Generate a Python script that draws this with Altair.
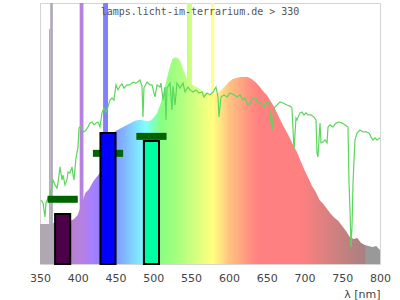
import altair as alt
import pandas as pd

# ---- data ----
# measured spectrum (relative units, 0..100 = plot height), 5 nm steps
spec_nm = list(range(350, 801, 5))
spec_val = [15.3, 15.3, 15.3, 15.3, 16.1, 16.1, 16.1, 16.1, 16.5, 17.2,
            18.8, 23.0, 27.2, 28.7, 31.4, 33.3, 35.2, 37.9, 43.7, 48.3,
            51.0, 51.7, 52.5, 53.3, 54.0, 54.8, 55.2, 55.2, 54.8, 54.8,
            55.9, 57.9, 61.7, 67.4, 73.6, 78.5, 79.3, 78.2, 74.3, 70.5,
            69.0, 68.2, 67.4, 66.3, 65.5, 64.8, 65.1, 65.5, 66.7, 68.2,
            69.7, 70.9, 71.3, 71.6, 71.6, 71.6, 70.9, 69.7, 68.2, 66.3,
            64.8, 62.5, 60.2, 57.1, 54.0, 51.3, 48.7, 45.6, 42.9, 39.5,
            36.0, 33.0, 29.9, 27.6, 24.5, 23.0, 21.1, 19.2, 17.6, 16.5,
            14.6, 12.6, 10.3, 9.6, 10.0, 8.0, 7.3, 6.9, 6.5, 6.9, 5.4]

# emission lines (clipped at the top)
line_lo = [362.0, 363.5, 402.5, 433.5, 544.5, 576.5]
line_hi = [363.5, 367.0, 407.5, 440.0, 551.0, 580.5]
line_top = [90, 100, 100, 100, 100, 100]
line_col = ["#b0a8b8", "#b0a8b8", "#b880e0", "#8080ff", "#c8ff80", "#ffff80"]

# reference (daylight) curve
ref_nm = [351.3, 354.0, 356.6, 357.9, 360.6, 363.2, 365.9, 367.2, 369.9, 372.5,
          373.8, 376.5, 379.1, 380.4, 383.1, 385.7, 387.1, 389.7, 392.4, 393.7,
          395.0, 397.6, 400.3, 401.6, 404.3, 405.6, 408.2, 410.9, 413.5, 416.2,
          418.8, 421.5, 424.1, 426.8, 429.4, 432.1, 434.7, 437.4, 440.0, 442.6,
          445.3, 447.9, 450.6, 453.2, 455.9, 458.5, 461.2, 465.1, 469.1, 473.1,
          477.1, 482.4, 485.0, 486.3, 487.6, 491.6, 495.6, 498.2, 502.2, 504.9,
          508.8, 510.1, 512.8, 515.4, 516.8, 518.1, 522.1, 524.7, 526.0, 528.7,
          531.3, 535.3, 539.3, 541.9, 545.9, 548.5, 552.5, 556.5, 560.4, 564.4,
          567.1, 571.0, 575.0, 579.0, 582.9, 585.6, 586.9, 589.6, 593.5, 597.5,
          601.5, 606.8, 610.7, 614.7, 618.7, 621.3, 625.3, 627.9, 631.9, 635.9,
          638.5, 642.5, 646.5, 649.1, 653.1, 654.4, 657.1, 659.7, 663.7, 667.6,
          671.6, 676.9, 680.9, 683.5, 686.2, 688.8, 690.1, 694.1, 696.8, 699.4,
          702.1, 704.7, 708.7, 712.6, 715.3, 716.6, 717.9, 720.6, 721.9, 724.6,
          727.2, 729.9, 731.2, 733.8, 737.8, 741.8, 745.7, 749.7, 753.7, 757.6,
          759.0, 760.3, 761.6, 762.9, 764.3, 765.6, 766.9, 769.6, 773.5, 777.5,
          781.5, 785.4, 788.1, 790.7, 793.4, 796.0, 800.0]
ref_val = [24.5, 23.4, 18.0, 23.4, 25.3, 26.4, 29.9, 32.2, 30.3, 29.1,
           31.0, 37.2, 32.2, 34.1, 30.3, 32.2, 35.2, 34.9, 37.2, 34.1,
           32.2, 40.6, 44.8, 52.1, 52.9, 51.3, 50.6, 51.3, 52.5, 54.0,
           54.4, 53.3, 54.0, 54.4, 52.5, 57.9, 59.8, 58.2, 60.2, 62.8,
           63.6, 62.8, 68.6, 66.7, 68.2, 69.0, 67.4, 68.6, 68.6, 69.7,
           69.3, 70.5, 68.2, 56.3, 67.4, 69.7, 68.6, 68.6, 64.0, 68.6,
           67.8, 69.3, 62.8, 67.8, 55.2, 67.4, 69.3, 59.0, 68.2, 60.9,
           69.3, 67.4, 69.3, 65.9, 67.8, 66.7, 65.9, 66.7, 65.5, 65.9,
           64.0, 65.5, 64.8, 65.9, 67.8, 64.0, 56.3, 64.0, 64.8, 64.0,
           65.5, 64.8, 64.0, 64.8, 62.8, 63.6, 60.9, 61.7, 63.6, 63.6,
           61.7, 61.7, 60.2, 62.1, 61.7, 57.9, 51.3, 59.8, 60.9, 62.1,
           61.7, 60.9, 60.5, 59.8, 43.7, 55.9, 55.2, 57.9, 58.2, 57.1,
           57.9, 57.1, 57.1, 56.3, 55.2, 42.5, 41.0, 54.0, 46.4, 46.7,
           47.5, 46.4, 52.5, 53.3, 52.5, 54.0, 54.4, 54.0, 53.3, 52.5,
           31.0, 20.7, 6.5, 14.2, 31.0, 39.8, 47.5, 50.2, 51.3, 50.6,
           50.6, 50.2, 48.7, 47.5, 48.3, 47.5, 48.3]

# measured bands: centre, bar value, target marker value
band_nm = [380, 440, 497.5]
bar_val = [19.2, 50.2, 47.1]
mark_val = [24.8, 42.4, 48.9]
bar_col = ["#4c0048", "#0000ff", "#00ffa4"]

x_ticks = [350, 400, 450, 500, 550, 600, 650, 700, 750, 800]
title_text = "lamps.licht-im-terrarium.de > 330"

# ---- style: spectral colour gradient (wavelength, colour) ----
grad = [(350, "#b0a8b0"), (379, "#b0a8b0"), (381, "#b088b8"), (390, "#b484c4"),
        (400, "#b880dc"), (410, "#b080f0"), (420, "#a480ff"), (440, "#8080ff"),
        (450, "#809aff"), (460, "#80b2ff"), (470, "#80ccff"), (480, "#80e6ff"),
        (490, "#80ffff"), (500, "#80ffc0"), (510, "#88ff80"), (530, "#a4ff80"),
        (550, "#c8ff80"), (565, "#e8ff80"), (578, "#ffff80"), (588, "#ffe880"),
        (600, "#ffc480"), (615, "#ffa880"), (628, "#ff9080"), (640, "#ff8080"),
        (695, "#ff8080"), (740, "#d08080"), (780, "#a88080"), (781, "#999999"),
        (800, "#999999")]
stops = [alt.GradientStop(color=c, offset=(w - 350) / 450) for w, c in grad]

spec_df = pd.DataFrame({"nm": spec_nm, "v": spec_val})
line_df = pd.DataFrame({"lo": line_lo, "hi": line_hi, "top": line_top, "col": line_col})
ref_df = pd.DataFrame({"nm": ref_nm, "v": ref_val})
band_df = pd.DataFrame({
    "c": band_nm, "bar": bar_val, "mark": mark_val, "col": bar_col,
})
band_df["b_lo"] = band_df["c"] - 10
band_df["b_hi"] = band_df["c"] + 10
band_df["m_lo"] = band_df["c"] - 20
band_df["m_hi"] = band_df["c"] + 20

xs = alt.Scale(domain=[350, 800], nice=False, zero=False)
ys = alt.Scale(domain=[0, 100], nice=False)

xaxis = alt.Axis(values=x_ticks, title="λ [nm]", titleAnchor="end",
                 labelFont="DejaVu Sans", labelFontSize=11, labelColor="#444",
                 titleFont="DejaVu Sans", titleFontSize=11, titleFontWeight="normal",
                 titleColor="#444", titlePadding=5, ticks=False, tickSize=0,
                 labelPadding=8, domain=False, grid=False, labelOverlap=False,
                 labelFlush=False)


def X(field):
    return alt.X(field, type="quantitative", scale=xs, axis=xaxis, title="λ [nm]")


def Y(field):
    return alt.Y(field, type="quantitative", scale=ys, axis=None)


area = alt.Chart(spec_df).mark_area(
    color=alt.LinearGradient(gradient="linear", stops=stops, x1=0, x2=1, y1=0, y2=0),
    opacity=1, interpolate="linear"
).encode(x=X("nm"), y=Y("v"))

lines = alt.Chart(line_df).mark_rect().encode(
    x=X("lo"), x2="hi:Q", y=Y("top"), y2=alt.datum(0),
    color=alt.Color("col:N", scale=None),
)

ref = alt.Chart(ref_df).mark_line(color="#5cd65c", strokeWidth=1.2).encode(
    x=X("nm"), y=Y("v"),
)

markers = alt.Chart(band_df).mark_rule(color="#006400", strokeWidth=7).encode(
    x=X("m_lo"), x2="m_hi:Q", y=Y("mark"),
)

bars = alt.Chart(band_df).mark_rect(stroke="black", strokeWidth=2).encode(
    x=X("b_lo"), x2="b_hi:Q", y=Y("bar"), y2=alt.datum(0),
    color=alt.Color("col:N", scale=None),
)

label = alt.Chart(pd.DataFrame({"t": [title_text]})).mark_text(
    font="DejaVu Sans Mono", fontSize=10, color="#555", baseline="alphabetic",
    align="center"
).encode(text="t:N", x=alt.value(160), y=alt.value(12))

chart = alt.layer(area, lines, ref, markers, bars, label).properties(
    width=340, height=261,
    autosize=alt.AutoSizeParams(type="none"),
    padding={"left": 40, "top": 3, "right": 20, "bottom": 36},
).configure_view(stroke="#d4d4d4", strokeWidth=1).configure_axis(labelOverlap=False)

chart.save("out.html", embed_options={"renderer": "svg", "actions": False})
